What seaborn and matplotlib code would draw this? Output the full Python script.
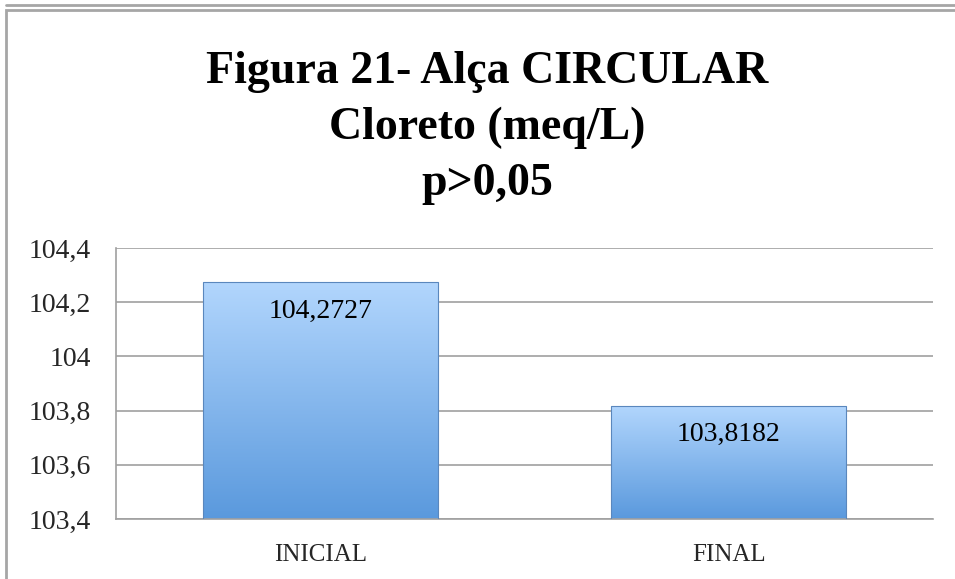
import numpy as np
import matplotlib
matplotlib.use("Agg")
import matplotlib.pyplot as plt
import matplotlib.patches as mpatches
from matplotlib.colors import LinearSegmentedColormap
import seaborn as sns

categorias = ["INICIAL", "FINAL"]
valores = [104.2727, 103.8182]
rotulos_y = ["103,4", "103,6", "103,8", "104", "104,2", "104,4"]
ticks_y = [103.4, 103.6, 103.8, 104.0, 104.2, 104.4]
titulo = ["Figura 21- Alça CIRCULAR", "Cloreto (meq/L)", "p>0,05"]

sns.set_style("white")
plt.rcParams["font.family"] = ["Liberation Serif", "DejaVu Serif"]

fig = plt.figure(figsize=(9.55, 5.79), dpi=100)
ax = fig.add_axes([116 / 955, 1 - 519 / 579, 817 / 955, 271 / 579])

sns.barplot(x=categorias, y=valores, ax=ax, width=0.576, color="#7fb3ec",
            edgecolor="#5a87bd", linewidth=0.8, zorder=3)

# degradê azul nas barras
grad = LinearSegmentedColormap.from_list("azul", ["#5a99dd", "#b2d6fd"])
g = np.linspace(0, 1, 256).reshape(-1, 1)
for barra, v in zip(ax.patches, valores):
    x0 = barra.get_x()
    x1 = x0 + barra.get_width()
    barra.set_facecolor("none")
    img = ax.imshow(g, cmap=grad, origin="lower", aspect="auto",
                    extent=[x0, x1, 103.4, v], zorder=2)
    img.set_clip_path(barra)
    ax.text(x0 + barra.get_width() / 2, v - 0.105, f"{v:.4f}".replace(".", ","),
            ha="center", va="center", fontsize=20, color="black", zorder=4)
ax.set_xlim(-0.5, 1.5)
ax.set_ylim(103.4, 104.4)

ax.set_yticks(ticks_y)
ax.set_yticklabels(rotulos_y)
ax.yaxis.grid(True, color="#a0a0a0", linewidth=1.2, zorder=0)
ax.set_axisbelow(True)
ax.tick_params(axis="y", labelsize=20, pad=18, length=0)
ax.tick_params(axis="x", labelsize=18, pad=18, length=0)
for lado in ["top", "right"]:
    ax.spines[lado].set_visible(False)
for lado in ["left", "bottom"]:
    ax.spines[lado].set_color("#a0a0a0")
    ax.spines[lado].set_linewidth(1.2)

# título em três linhas
for i, linha in enumerate(titulo):
    fig.text(487 / 955, 1 - (83 + 56 * i) / 579, linha, ha="center", va="baseline",
             fontsize=33, fontweight="bold", color="black")

# moldura
fig.patches.append(mpatches.Rectangle((6 / 955, -0.05), 1.1, 1 - 10 / 579 + 0.05,
                                      transform=fig.transFigure, fill=False,
                                      edgecolor="#a6a6a6", linewidth=2))
fig.lines.append(plt.Line2D([6 / 955, 1], [1 - 5 / 579, 1 - 5 / 579],
                            transform=fig.transFigure, color="#a6a6a6", linewidth=2))

fig.savefig("out.png", dpi=100)
